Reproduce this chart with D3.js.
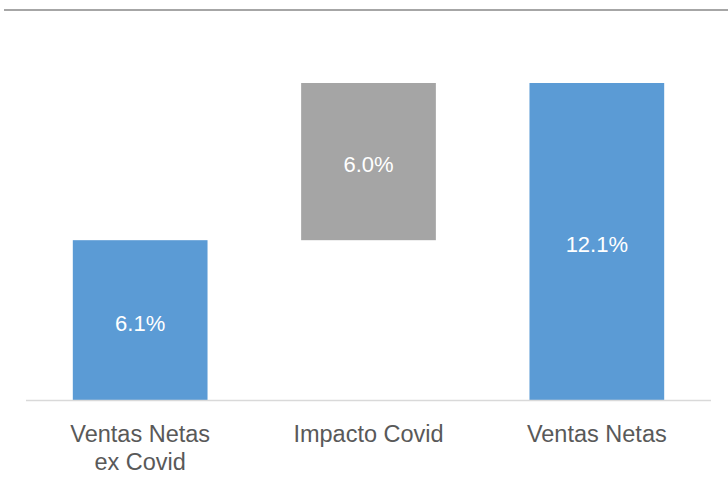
<!DOCTYPE html>
<html>
<head>
<meta charset="utf-8">
<script src="https://cdn.jsdelivr.net/npm/d3@7"></script>
<style>
  body { margin: 0; background: white; }
  svg { display: block; }
</style>
</head>
<body>
<script>
var categories = ["Ventas Netas\nex Covid", "Impacto Covid", "Ventas Netas"]
var starts = [0, 6.1, 0]
var values = [6.1, 6.0, 12.1]
var labels = ["6.1%", "6.0%", "12.1%"]
var barColors = ["#5b9bd5", "#a5a5a5", "#5b9bd5"]

var width = 728
var height = 482
var margin = { left: 26, right: 17, top: 83, bottom: 82 }

var svg = d3.select("body")
    .append("svg")
    .attr("width", width)
    .attr("height", height)

// thin rule at the top of the slide
svg.append("line")
    .attr("x1", 4).attr("x2", width)
    .attr("y1", 10).attr("y2", 10)
    .attr("stroke", "#a6a6a6")
    .attr("stroke-width", 2)

var x = d3.scaleBand()
    .domain(categories)
    .range([margin.left, width - margin.right])
    .paddingInner(0.41)
    .paddingOuter(0.205)

var y = d3.scaleLinear()
    .domain([0, 12.1])
    .range([height - margin.bottom, margin.top])

svg.selectAll(".bar")
    .data(categories)
    .enter()
    .append("rect")
    .attr("class", "bar")
    .attr("x", function (d) { return x(d) })
    .attr("width", x.bandwidth())
    .attr("y", function (d, i) { return y(starts[i] + values[i]) })
    .attr("height", function (d, i) { return y(starts[i]) - y(starts[i] + values[i]) })
    .attr("fill", function (d, i) { return barColors[i] })

svg.selectAll(".label")
    .data(categories)
    .enter()
    .append("text")
    .attr("class", "label")
    .attr("x", function (d) { return x(d) + x.bandwidth() / 2 })
    .attr("y", function (d, i) { return y(starts[i] + values[i] / 2) + 10.5 })
    .attr("text-anchor", "middle")
    .attr("fill", "white")
    .style("font-family", "Arial, 'Liberation Sans', sans-serif")
    .style("font-size", "22px")
    .text(function (d, i) { return labels[i] })

// baseline
svg.append("line")
    .attr("x1", margin.left).attr("x2", width - margin.right)
    .attr("y1", y(0) + 0.5).attr("y2", y(0) + 0.5)
    .attr("stroke", "#d9d9d9")
    .attr("stroke-width", 1.5)

var cat = svg.selectAll(".cat")
    .data(categories)
    .enter()
    .append("text")
    .attr("class", "cat")
    .attr("x", function (d) { return x(d) + x.bandwidth() / 2 })
    .attr("y", y(0) + 41.5)
    .attr("text-anchor", "middle")
    .attr("fill", "#595959")
    .style("font-family", "Arial, 'Liberation Sans', sans-serif")
    .style("font-size", "23.5px")

cat.selectAll("tspan")
    .data(function (d) { return d.split("\n") })
    .enter()
    .append("tspan")
    .attr("x", function () { var p = this.parentNode; return p.getAttribute("x") })
    .attr("dy", function (d, i) { return i === 0 ? 0 : 28.5 })
    .text(function (d) { return d })
</script>
</body>
</html>
